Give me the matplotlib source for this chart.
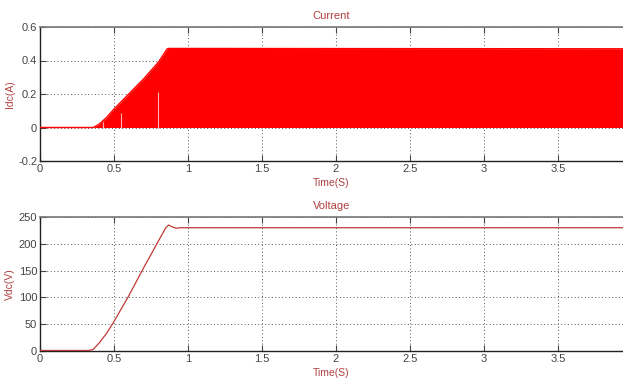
import matplotlib
matplotlib.use("Agg")
import matplotlib.pyplot as plt
import numpy as np

# ---- data ----
t_cur = [0.0, 0.36, 0.40, 0.45, 0.50, 0.60, 0.70, 0.80, 0.86, 0.87, 3.94]
i_env = [0.0, 0.0, 0.02, 0.06, 0.11, 0.20, 0.29, 0.39, 0.47, 0.472, 0.47]
gap_t = [0.426, 0.548, 0.80]
gap_h = [0.03, 0.084, 0.21]

t_volt = [0.0, 0.33, 0.36, 0.40, 0.45, 0.50, 0.60, 0.70, 0.80, 0.85, 0.87, 0.89, 0.92, 0.95, 3.94]
v_dc = [1.0, 1.0, 3.0, 15.0, 33.0, 55.0, 103.0, 155.0, 205.0, 230.0, 235.0, 232.0, 229.0, 230.0, 230.0]

xticks = [0, 0.5, 1, 1.5, 2, 2.5, 3, 3.5]
xticklabels = ["0", "0.5", "1", "1.5", "2", "2.5", "3", "3.5"]
yticks_i = [-0.2, 0, 0.2, 0.4, 0.6]
yticklabels_i = ["-0.2", "0", "0.2", "0.4", "0.6"]
yticks_v = [0, 50, 100, 150, 200, 250]
yticklabels_v = ["0", "50", "100", "150", "200", "250"]

plt.rcParams['font.family'] = ['Liberation Sans Narrow', 'Liberation Sans', 'DejaVu Sans']

label_color = '#b04040'
tick_color = '#444444'

fig = plt.figure(figsize=(6.23, 3.83), dpi=100)
ax1 = fig.add_axes([40/623, 1-161/383, 1-40/623, (161-27)/383])
ax2 = fig.add_axes([40/623, 1-351/383, 1-40/623, (351-217)/383])

def style(ax):
    ax.set_xlim(0, 3.94)
    ax.set_xticks(xticks)
    ax.set_xticklabels(xticklabels)
    ax.grid(True, linestyle=(0, (1, 2.5)), color='#555555', linewidth=0.7)
    ax.tick_params(direction='in', top=True, right=False, length=4,
                   labelsize=8, colors=tick_color, width=0.8, pad=2)
    for s in ['left', 'bottom']:
        ax.spines[s].set_color('#222222')
        ax.spines[s].set_linewidth(1.0)
    ax.spines['top'].set_color('#777777')
    ax.spines['top'].set_linewidth(1.2)
    ax.spines['right'].set_visible(False)
    ax.set_xlabel('Time(S)', fontsize=7.5, color=label_color, labelpad=3)
    ax.yaxis.set_label_coords(-0.043, 0.5)

# Current
ax1.fill_between(t_cur, 0, i_env, color='#ff0000', linewidth=0, zorder=3)
ax1.plot(t_cur, i_env, color='#ff0000', linewidth=1.0, zorder=3)
ax1.vlines(gap_t, 0, gap_h, color='#ffb0b0', linewidth=0.8, zorder=4)
ax1.set_ylim(-0.2, 0.6)
ax1.set_yticks(yticks_i)
ax1.set_yticklabels(yticklabels_i)
ax1.set_ylabel('Idc(A)', fontsize=7.5, color=label_color)
style(ax1)
ax1.set_title('Current', fontsize=8, color=label_color, pad=6)

# Voltage
ax2.plot(t_volt, v_dc, color='#c03a34', linewidth=0.9, zorder=3)
ax2.set_ylim(0, 250)
ax2.set_yticks(yticks_v)
ax2.set_yticklabels(yticklabels_v)
ax2.set_ylabel('Vdc(V)', fontsize=7.5, color=label_color)
style(ax2)
ax2.set_title('Voltage', fontsize=8, color=label_color, pad=6)

fig.savefig('out.png', dpi=100)
